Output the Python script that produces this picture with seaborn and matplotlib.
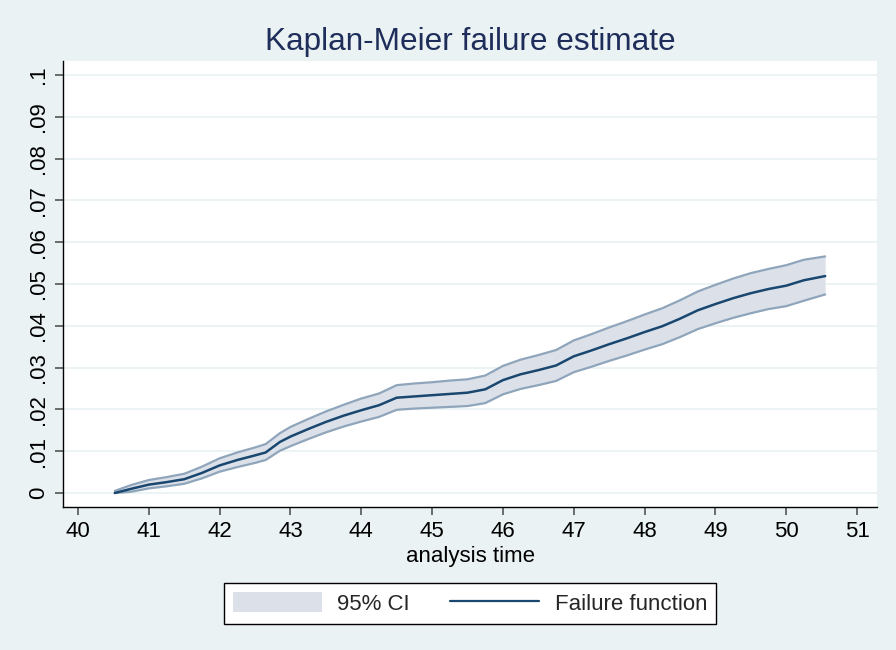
import matplotlib
matplotlib.use("Agg")
import matplotlib.pyplot as plt
from matplotlib.patches import Patch
from matplotlib.lines import Line2D
import seaborn as sns
import pandas as pd

# ---- data ----
time = [40.52, 40.75, 41.00, 41.25, 41.50, 41.75, 42.00, 42.25, 42.50, 42.65,
        42.85, 43.00, 43.25, 43.50, 43.75, 44.00, 44.25, 44.50, 44.75, 45.00,
        45.25, 45.50, 45.75, 46.00, 46.25, 46.50, 46.75, 47.00, 47.25, 47.50,
        47.75, 48.00, 48.25, 48.50, 48.75, 49.00, 49.25, 49.50, 49.75, 50.00,
        50.25, 50.55]
failure = [0.0000, 0.0010, 0.0020, 0.0026, 0.0033, 0.0048, 0.0066, 0.0079, 0.0090, 0.0097,
           0.0122, 0.0135, 0.0153, 0.0170, 0.0185, 0.0198, 0.0210, 0.0228, 0.0231, 0.0234,
           0.0237, 0.0240, 0.0248, 0.0270, 0.0284, 0.0294, 0.0305, 0.0327, 0.0341, 0.0356,
           0.0370, 0.0385, 0.0399, 0.0417, 0.0437, 0.0452, 0.0466, 0.0478, 0.0488, 0.0496,
           0.0509, 0.0519]
upper = [0.0005, 0.0019, 0.0031, 0.0038, 0.0046, 0.0063, 0.0083, 0.0097, 0.0109, 0.0117,
         0.0143, 0.0158, 0.0177, 0.0195, 0.0211, 0.0226, 0.0238, 0.0258, 0.0262, 0.0265,
         0.0269, 0.0272, 0.0281, 0.0304, 0.0319, 0.0330, 0.0342, 0.0365, 0.0380, 0.0396,
         0.0411, 0.0427, 0.0442, 0.0461, 0.0482, 0.0498, 0.0513, 0.0526, 0.0536, 0.0545,
         0.0558, 0.0566]
lower = [0.0000, 0.0003, 0.0011, 0.0016, 0.0022, 0.0035, 0.0051, 0.0062, 0.0072, 0.0079,
         0.0101, 0.0112, 0.0129, 0.0145, 0.0159, 0.0171, 0.0182, 0.0199, 0.0202, 0.0204,
         0.0206, 0.0208, 0.0215, 0.0236, 0.0249, 0.0258, 0.0268, 0.0289, 0.0302, 0.0316,
         0.0329, 0.0343, 0.0356, 0.0373, 0.0392, 0.0406, 0.0419, 0.0430, 0.0440, 0.0447,
         0.0460, 0.0475]
x_ticks = [40, 41, 42, 43, 44, 45, 46, 47, 48, 49, 50, 51]
y_ticks = [0, 0.01, 0.02, 0.03, 0.04, 0.05, 0.06, 0.07, 0.08, 0.09, 0.1]
y_tick_labels = ["0", ".01", ".02", ".03", ".04", ".05", ".06", ".07", ".08", ".09", ".1"]
title = "Kaplan-Meier failure estimate"
x_label = "analysis time"
legend_labels = ["95% CI", "Failure function"]

df = pd.DataFrame({"time": time, "failure": failure, "lower": lower, "upper": upper})

# ---- style ----
BG = "#EAF2F3"
NAVY = "#1A476F"
BAND = "#DCE1E9"
BAND_EDGE = "#8FA5BB"
TITLE_C = "#1E2D5A"

sns.set_theme(style="white")
plt.rcParams["font.family"] = ["Liberation Sans", "DejaVu Sans"]

fig = plt.figure(figsize=(8.96, 6.5), dpi=100, facecolor=BG)
ax = fig.add_axes([63 / 896, 1 - 507 / 650, (877 - 63) / 896, (507 - 61) / 650])
ax.set_facecolor("white")

ax.fill_between(df["time"], df["lower"], df["upper"], color=BAND, linewidth=0, zorder=2)
ax.plot(df["time"], df["upper"], color=BAND_EDGE, lw=1.6, zorder=3)
ax.plot(df["time"], df["lower"], color=BAND_EDGE, lw=1.6, zorder=3)
sns.lineplot(data=df, x="time", y="failure", ax=ax, color=NAVY, lw=1.8,
             estimator=None, sort=False, zorder=4)

ax.set_xlim(39.788, 51.282)
ax.set_ylim(-0.00335, 0.10335)
ax.set_xticks(x_ticks)
ax.set_xticklabels([str(t) for t in x_ticks])
ax.set_yticks(y_ticks)
ax.set_yticklabels(y_tick_labels, rotation=90, va="center")
for y in y_ticks:
    ax.axhline(y, color=BG, lw=1.3, zorder=1)

for s in ["top", "right"]:
    ax.spines[s].set_visible(False)
for s in ["left", "bottom"]:
    ax.spines[s].set_color("black")
    ax.spines[s].set_linewidth(1.0)

ax.tick_params(axis="both", which="major", direction="out", length=6, width=1.2,
               color="#555555", labelsize=16, labelcolor="black", pad=4,
               bottom=True, left=True)
ax.set_xlabel(x_label, fontsize=16, color="black", labelpad=3)
ax.set_ylabel("")
ax.set_title(title, fontsize=22.7, color=TITLE_C, pad=8)

handles = [Patch(facecolor=BAND, edgecolor="none"),
           Line2D([0], [0], color=NAVY, lw=1.6)]
leg = fig.legend(handles, legend_labels, loc="center", bbox_to_anchor=(470 / 896, 1 - 603.5 / 650),
                 ncol=2, fontsize=16, frameon=True, fancybox=False, handlelength=4.0,
                 handleheight=1.0, handletextpad=0.7, columnspacing=1.8, borderpad=0.4)
leg.get_frame().set_edgecolor("black")
leg.get_frame().set_linewidth(1.0)
leg.get_frame().set_facecolor("white")
leg.get_frame().set_alpha(1)

fig.savefig("out.png", dpi=100, facecolor=BG)
